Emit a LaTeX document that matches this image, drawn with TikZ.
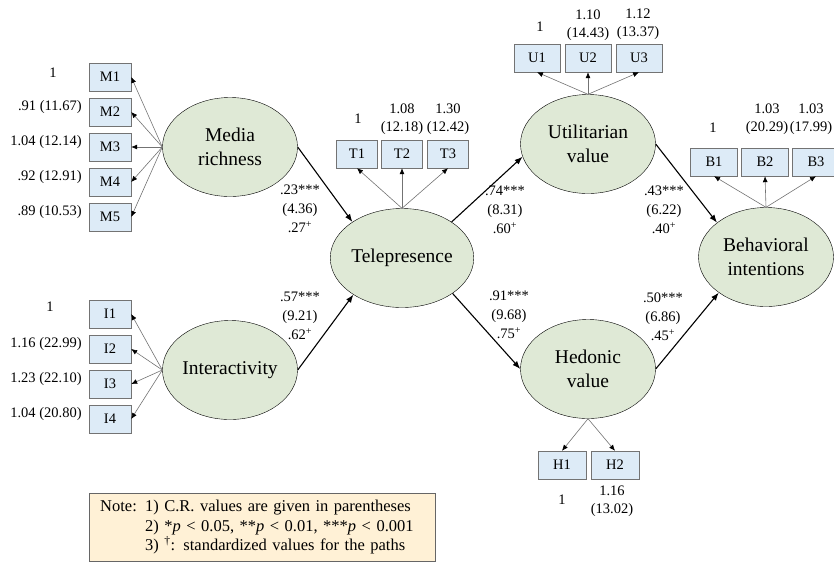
\documentclass[tikz,border=0pt]{standalone}
\usepackage{fontspec}
\setmainfont{Liberation Serif}
\usetikzlibrary{arrows.meta}
\usetikzlibrary{shapes.geometric}
\usetikzlibrary{calc}
\usetikzlibrary{positioning}

\definecolor{latentfill}{RGB}{223,233,214}
\definecolor{itemfill}{RGB}{221,235,247}
\definecolor{notefill}{RGB}{255,241,214}

\begin{document}
\begin{tikzpicture}[x=1pt, y=-1pt]
	\tikzstyle{latent}=[ellipse, draw, thin, fill=latentfill, inner sep=0pt,
	                    minimum width=135pt, minimum height=99pt, align=center,
	                    font=\fontsize{19.5}{24}\selectfont];
	\tikzstyle{item}=[rectangle, draw=black!55, fill=itemfill, inner sep=0pt,
	                  minimum height=28pt, font=\fontsize{14.5}{16}\selectfont];
	\tikzstyle{load}=[inner sep=0pt, align=center, font=\fontsize{14.5}{17.5}\selectfont];
	\tikzstyle{est}=[inner sep=0pt, align=center, font=\fontsize{14.5}{19}\selectfont];
	\tikzstyle{meas}=[draw=black!55, line width=0.6pt, -{Latex[length=6pt, width=5pt, color=black]}];
	\tikzstyle{struct}=[draw=black, line width=1.1pt, -{Latex[length=8pt, width=6pt]}];
	\clip (0,0) rectangle (834,563);
	% latent variables
	\node[latent] (media) at (230,147) {Media\\richness};
	\node[latent] (inter) at (230,370) {Interactivity};
	\node[latent] (tele) at (402,258) {Telepresence};
	\node[latent] (util) at (588,144) {Utilitarian\\value};
	\node[latent] (hed) at (588,369) {Hedonic\\value};
	\node[latent] (behav) at (766,257) {Behavioral\\intentions};
	% indicators
	\foreach \i/\y in {1/77, 2/112, 3/147, 4/182, 5/217}
	{\node[item, minimum width=42pt] (M\i) at (110,\y) {M\i};
	 \draw[meas] (media.west) -- (M\i.east);}
	\foreach \i/\y in {1/314, 2/349, 3/384, 4/419}
	{\node[item, minimum width=42pt] (I\i) at (110,\y) {I\i};
	 \draw[meas] (inter.west) -- (I\i.east);}
	\foreach \i/\x in {1/357, 2/402, 3/448}
	{\node[item, minimum width=41pt] (T\i) at (\x,154) {T\i};
	 \draw[meas] (tele.north) -- (T\i.south);}
	\foreach \i/\x in {1/537, 2/588, 3/639}
	{\node[item, minimum width=46pt] (U\i) at (\x,58) {U\i};
	 \draw[meas] (util.north) -- (U\i.south);}
	\foreach \i/\x in {1/714, 2/765, 3/816}
	{\node[item, minimum width=47pt] (B\i) at (\x,162) {B\i};
	 \draw[meas] (behav.north) -- (B\i.south);}
	\foreach \i/\x in {1/562, 2/615}
	{\node[item, minimum width=48pt] (H\i) at (\x,465) {H\i};
	 \draw[meas] (hed.south) -- (H\i.north);}
	% loadings
	\node[load] (lM1) at (53,73) {1};
	\foreach \i/\v in {2/.91 (11.67), 3/1.04 (12.14), 4/.92 (12.91), 5/.89 (10.53)}
	{\node[load, anchor=east] (lM\i) at ($(M\i.west)+(-7,-5)$) {\v};}
	\node[load] (lI1) at (50,307) {1};
	\foreach \i/\v in {2/1.16 (22.99), 3/1.23 (22.10), 4/1.04 (20.80)}
	{\node[load, anchor=east] (lI\i) at ($(I\i.west)+(-7,-5)$) {\v};}
	\node[load] (lT1) at (358,119) {1};
	\node[load] (lT2) at (402,119) {1.08\\(12.18)};
	\node[load] (lT3) at (448,119) {1.30\\(12.42)};
	\node[load] (lU1) at (540,27) {1};
	\node[load] (lU2) at (588,25) {1.10\\(14.43)};
	\node[load] (lU3) at (638,24) {1.12\\(13.37)};
	\node[load] (lB1) at (713,128) {1};
	\node[load] (lB2) at (767,119) {1.03\\(20.29)};
	\node[load] (lB3) at (811,119) {1.03\\(17.99)};
	\node[load] (lH1) at (562,500) {1};
	\node[load] (lH2) at (612,501) {1.16\\(13.02)};
	% structural paths
	\draw[struct] (media.east) -- (tele.144);
	\draw[struct] (inter.east) -- (tele.217);
	\draw[struct] (tele.36) -- (util.191);
	\draw[struct] (tele.325) -- (hed.west);
	\draw[struct] (util.east) -- (behav.145);
	\draw[struct] (hed.east) -- (behav.217);
	\node[est] (e1) at (300,209) {.23***\\(4.36)\\.27\textsuperscript{+}};
	\node[est] (e2) at (300,316) {.57***\\(9.21)\\.62\textsuperscript{+}};
	\node[est] (e3) at (505,210) {.74***\\(8.31)\\.60\textsuperscript{+}};
	\node[est] (e4) at (509,315) {.91***\\(9.68)\\.75\textsuperscript{+}};
	\node[est] (e5) at (664,210) {.43***\\(6.22)\\.40\textsuperscript{+}};
	\node[est] (e6) at (663,317) {.50***\\(6.86)\\.45\textsuperscript{+}};
	% note
	\node[draw=black!60, fill=notefill, anchor=north west, text width=324pt,
	      inner xsep=11pt, minimum height=68pt, align=left,
	      font=\fontsize{16.5}{19.5}\selectfont] (note) at (89,493)
	{Note: 1) C.R. values are given in parentheses\\
	 \phantom{Note: }2) *\textit{p} < 0.05, **\textit{p} < 0.01, ***\textit{p} < 0.001\\
	 \phantom{Note: }3) \textsuperscript{†}: standardized values for the paths};
\end{tikzpicture}
\end{document}
